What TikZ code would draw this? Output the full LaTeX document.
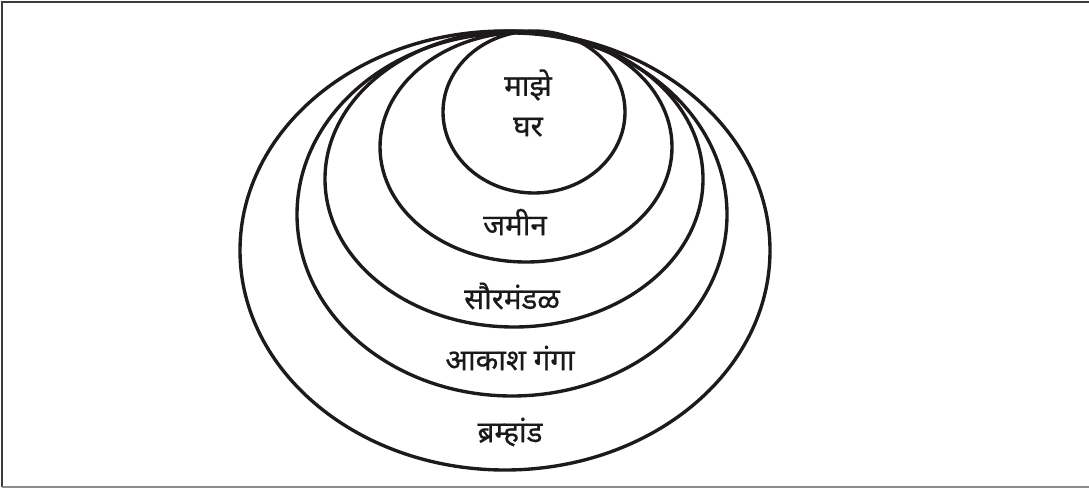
\documentclass[tikz,border=0pt]{standalone}
\usepackage{fontspec}
\newfontfamily\marathi[Script=Devanagari, FakeBold=0.6]{Noto Sans}
\usepackage{tikz}
\usetikzlibrary{positioning}
\definecolor{ringgray}{RGB}{30,26,26}
\definecolor{framegray}{RGB}{60,60,60}

\begin{document}
\begin{tikzpicture}[
    x=0.025cm, y=0.025cm,
    ring/.style={draw=ringgray, line width=2.4pt},
    label/.style={font=\marathi\fontsize{21}{25}\selectfont, text=black!90, inner sep=0pt}
]
    \useasboundingbox (0,0) rectangle (1089,488);

    % Frame (right side cut off)
    \coordinate (tr) at (1089,486);
    \coordinate (tl) at (2,486);
    \coordinate (bl) at (2,1);
    \coordinate (br) at (1089,1);
    \draw[framegray, line width=1.6pt] (tr) -- (tl) -- (bl);
    \draw[black!45, line width=1.2pt] (bl) -- (br);

    % Nested rings, all touching at the top
    \foreach \cx/\cy/\rx/\ry in {505/237.5/265/219.5, 512/273.5/215/181.5, 514/309/189/148, 526/341/146/115, 534/376/91/81} {
        \draw[ring] (\cx,\cy) ellipse [x radius=\rx, y radius=\ry];
    }

    % Labels
    \node[label] (home1) at (528,403) {माझे};
    \node[label, below=30pt of home1.center, anchor=center] (home2) {घर};
    \node[label] (earth) at (515,266) {जमीन};
    \node[label] (solar) at (512,192) {सौरमंडळ};
    \node[label] (galaxy) at (510,130) {आकाश गंगा};
    \node[label] (universe) at (510,56) {ब्रम्हांड};
\end{tikzpicture}
\end{document}
